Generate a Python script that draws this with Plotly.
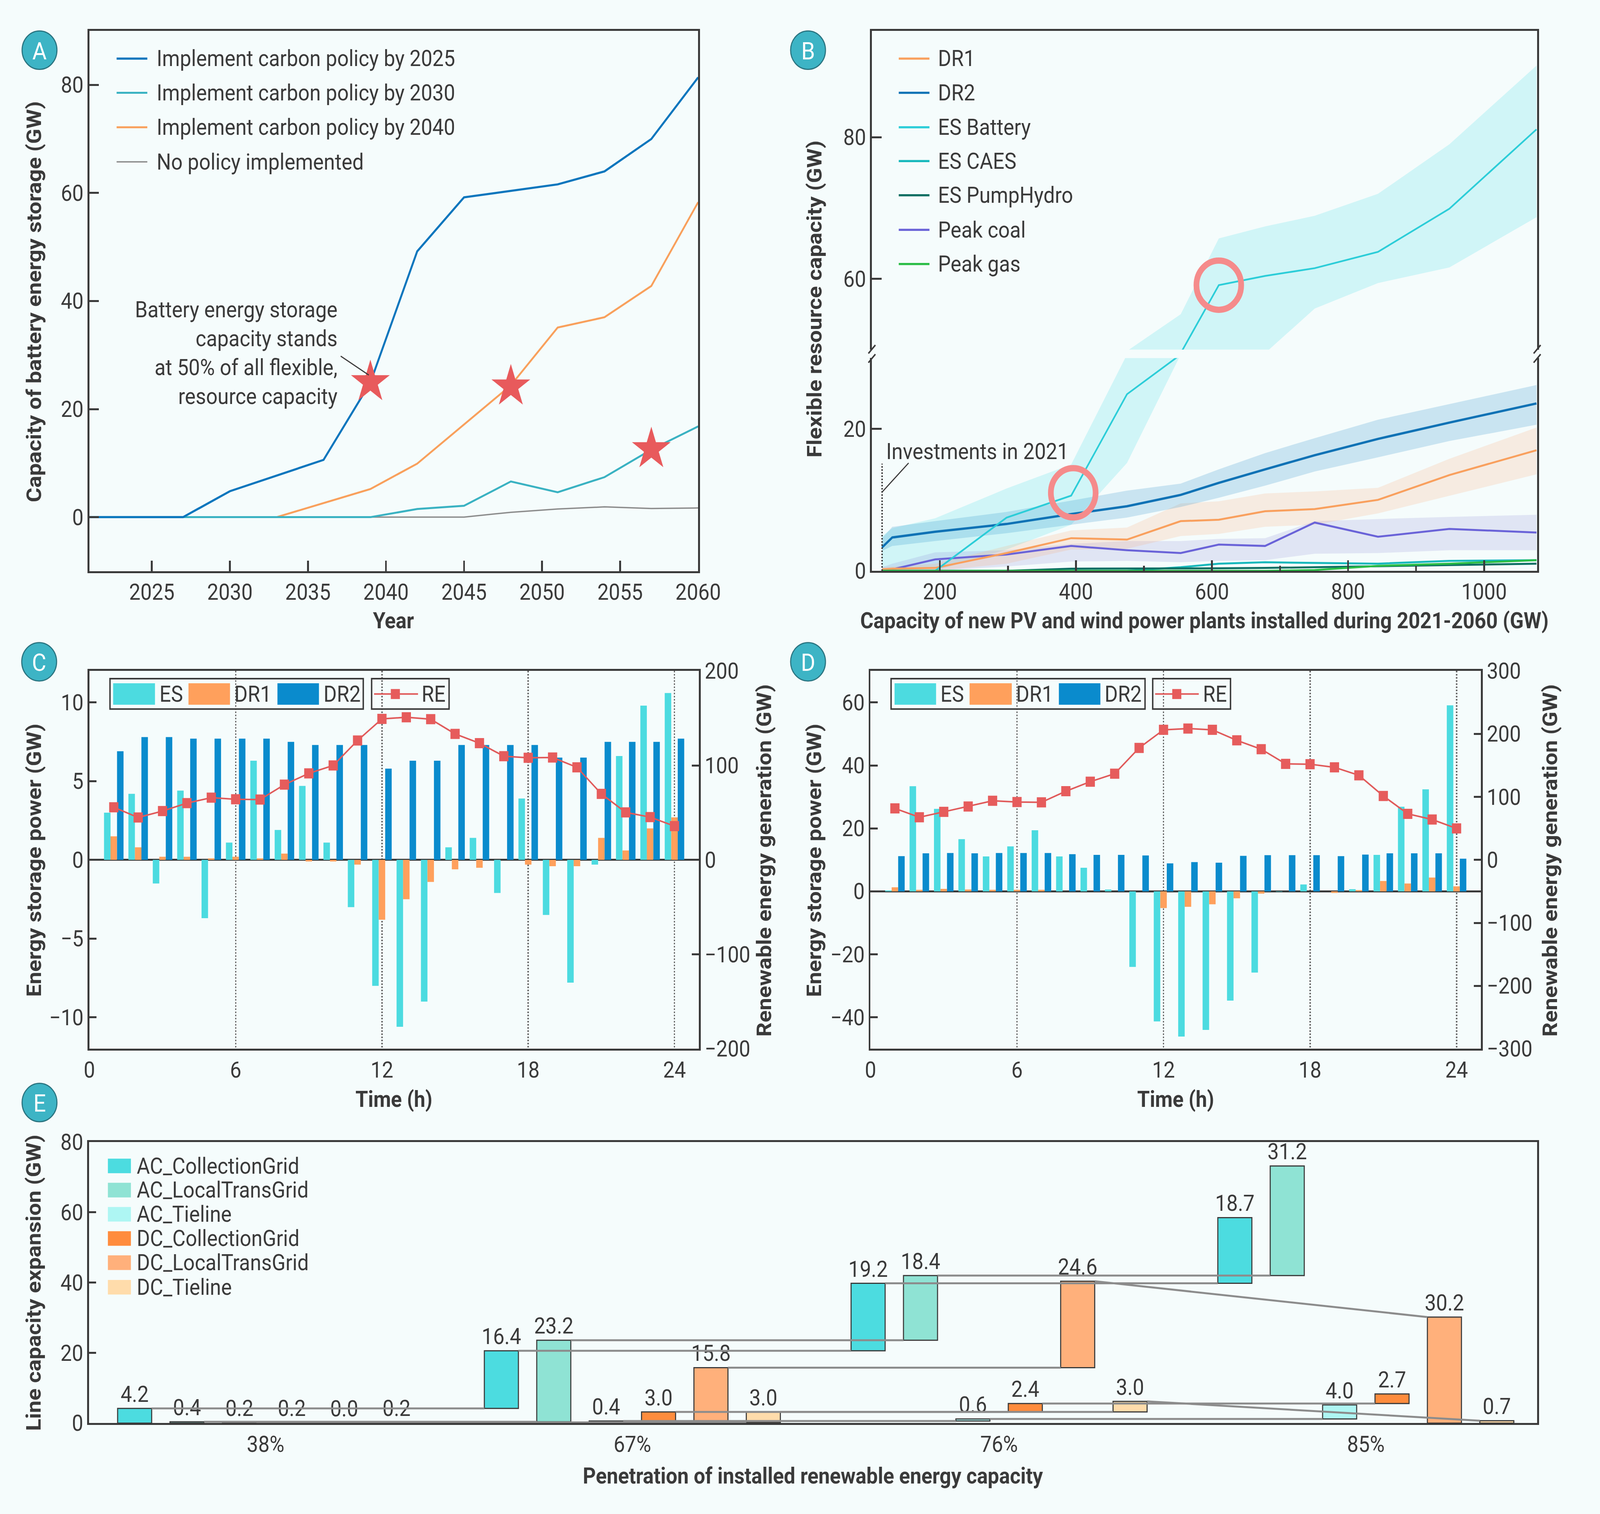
import plotly.graph_objects as go

W, H = 4505, 3875
BG = "#f5fcfc"
INK = "#3a3a3a"
FONT = "Roboto"
FS = 57

# ---------------- Panel A: battery storage capacity by policy year
years = [2021, 2024, 2027, 2030, 2033, 2036, 2039, 2042, 2045, 2048, 2051, 2054, 2057, 2060]
policy_2025 = [0, 0, 0, 4.8, 7.7, 10.6, 24.9, 49.2, 59.2, 60.4, 61.6, 64.0, 70.0, 81.4]
policy_2030 = [0, 0, 0, 0, 0, 0, 0, 1.5, 2.1, 6.6, 4.6, 7.4, 12.5, 16.8]
policy_2040 = [0, 0, 0, 0, 0, 2.6, 5.2, 9.9, 17.1, 24.4, 35.1, 37.0, 42.8, 58.3]
no_policy = [0, 0, 0, 0, 0, 0, 0, 0, 0, 0.9, 1.5, 1.9, 1.6, 1.7]
star_years = [2039, 2048, 2057]
star_values = [25.0, 24.2, 12.6]

# ---------------- Panel B: flexible resources vs new PV/wind capacity
pv_wind = [115, 130, 193, 298, 393, 475, 554, 610, 678, 751, 844, 949, 1077]
dr1 = [0.2, 0.3, 0.4, 2.5, 4.6, 4.4, 7.0, 7.2, 8.4, 8.7, 10.0, 13.5, 17.0]
dr1_hi = [0.5, 0.6, 1.0, 3.5, 5.7, 6.1, 9.5, 9.8, 10.9, 11.2, 11.7, 15.8, 20.2]
dr1_lo = [0, 0, 0, 1.0, 3.0, 3.1, 4.9, 5.2, 6.2, 6.5, 8.1, 10.6, 13.6]
dr2 = [3.3, 4.7, 5.5, 6.6, 8.0, 9.1, 10.7, 12.4, 14.3, 16.3, 18.6, 20.9, 23.6]
dr2_hi = [4.6, 6.2, 7.0, 8.3, 9.9, 11.3, 12.3, 14.3, 16.6, 18.7, 21.3, 23.5, 26.2]
dr2_lo = [2.8, 3.5, 4.2, 5.3, 6.5, 7.5, 9.0, 10.3, 12.0, 14.0, 16.0, 18.3, 20.6]
coal = [0, 0.2, 1.6, 2.3, 3.5, 2.9, 2.5, 3.7, 3.5, 6.8, 4.8, 5.9, 5.4]
coal_hi = [0.5, 1.0, 2.6, 2.9, 3.8, 4.2, 4.2, 4.5, 4.6, 7.0, 7.3, 7.6, 7.9]
coal_lo = [0, 0, 0, 0.6, 1.3, 1.4, 1.2, 1.4, 1.5, 2.4, 2.5, 2.9, 2.9]
caes = [0, 0, 0, 0, 0, 0, 0.5, 1.0, 1.2, 1.1, 1.0, 1.4, 1.5]
pumphydro = [0, 0, 0, 0, 0.3, 0.3, 0.3, 0.35, 0.4, 0.5, 0.6, 0.8, 1.0]
peak_gas = [0, 0, 0, 0, 0, 0, 0, 0, 0, 0.1, 0.7, 1.0, 1.5]
# battery jumps across the axis break, so it keeps its own point list
battery_x = [115, 130, 193, 298, 393, 475, 554, 554, 610, 678, 751, 844, 949, 1077]
battery_y = [0, 0, 0, 7.5, 10.6, 24.9, 30.5, 49.5, 59.1, 60.4, 61.5, 63.8, 69.9, 81.1]
battery_band_x = [115, 130, 193, 298, 393, 475, 475, 554, 610, 678, 751, 844, 949, 1077,
                  1077, 949, 844, 751, 678, 554, 475, 393, 298, 193, 130, 115]
battery_band_y = [4.9, 6.0, 7.4, 11.6, 15.0, 30.5, 49.8, 55.0, 65.7, 67.4, 68.9, 72.0, 79.0, 90.1,
                  68.7, 61.6, 59.4, 55.8, 49.5, 30.5, 15.2, 6.5, 3.0, 0, 0, 0]
ring_x = [396, 610]
ring_y = [11.0, 59.1]

# ---------------- Panels C and D: hourly dispatch
hours = list(range(1, 25))
c_es = [3.0, 4.2, -1.5, 4.4, -3.7, 1.1, 6.3, 1.9, 4.7, 1.1, -3.0, -8.0, -10.6, -9.0,
        0.8, 1.4, -2.1, 3.9, -3.5, -7.8, -0.3, 6.6, 9.8, 10.6]
c_dr1 = [1.5, 0.8, 0.2, 0.2, 0.1, 0.2, 0.1, 0.4, -0.1, -0.1, -0.3, -3.8, -2.5, -1.4,
         -0.6, -0.5, 0, -0.3, -0.4, -0.4, 1.4, 0.6, 2.0, 2.7]
c_dr2 = [6.9, 7.8, 7.8, 7.7, 7.7, 7.7, 7.7, 7.5, 7.3, 7.3, 7.3, 5.8, 6.3, 6.3,
         7.3, 7.3, 7.3, 7.3, 6.5, 6.5, 7.5, 7.5, 7.5, 7.7]
c_re = [55.7, 44.9, 51.7, 60.1, 65.9, 64.2, 63.9, 79.7, 91.6, 100.0, 126.4, 149.3, 151.0, 149.0,
        133.4, 123.6, 109.8, 108.1, 108.4, 98.0, 69.9, 50.3, 45.3, 35.8]
d_es = [0.3, 33.4, 26.2, 16.6, 11.1, 14.3, 19.4, 11.1, 7.5, 0.6, -24.0, -41.3, -46.1, -44.0,
        -34.7, -25.8, -0.1, 2.2, 0.0, 0.7, 11.6, 26.9, 32.4, 59.1]
d_dr1 = [1.3, 0.5, 0.8, 0.6, 0.5, 0.5, 0.5, 0, 0, 0, 0, -5.3, -4.9, -4.1,
         -2.2, -0.7, 0, 0, -0.5, 0.4, 3.3, 2.5, 4.4, 1.6]
d_dr2 = [11.2, 12.1, 12.2, 12.1, 12.2, 12.2, 12.2, 11.8, 11.6, 11.6, 11.4, 8.9, 9.3, 9.1,
         11.3, 11.5, 11.5, 11.5, 11.2, 11.7, 12.1, 12.1, 12.1, 10.4]
d_re = [81.8, 67.7, 76.3, 84.8, 93.9, 91.9, 91.4, 109.1, 124.2, 136.9, 177.8, 206.6, 208.6, 206.6,
        189.9, 175.8, 152.5, 152.0, 147.0, 134.3, 101.5, 73.2, 64.1, 50.0]

# ---------------- Panel E: line capacity expansion
penetration = ["38%", "67%", "76%", "85%"]
line_types = ["AC_CollectionGrid", "AC_LocalTransGrid", "AC_Tieline",
              "DC_CollectionGrid", "DC_LocalTransGrid", "DC_Tieline"]
line_added = [
    [4.2, 16.4, 19.2, 18.7],
    [0.4, 23.2, 18.4, 31.2],
    [0.2, 0.4, 0.6, 4.0],
    [0.2, 3.0, 2.4, 2.7],
    [0.0, 15.8, 24.6, 30.2],
    [0.2, 3.0, 3.0, 0.7],
]
line_base = [
    [0, 4.2, 20.6, 39.8],
    [0, 0.4, 23.6, 42.0],
    [0, 0.2, 0.6, 1.2],
    [0, 0.2, 3.2, 5.6],
    [0, 0.0, 15.8, 0],
    [0, 0.2, 3.2, 0],
]
line_colors = ["#4cdce0", "#8fe3d4", "#aef6f3", "#ff8c3d", "#ffb07b", "#ffdcab"]


def px(x):
    return x / W


def py(y):
    return 1 - y / H


fig = go.Figure()
shapes = []
annos = []


def text(x, y, s, size=FS, anchor="left", bold=False, angle=0, color=INK):
    annos.append(dict(xref="paper", yref="paper", x=px(x), y=py(y), text=s, showarrow=False,
                      xanchor=anchor, yanchor="middle", textangle=angle,
                      font=dict(family=FONT, size=size, color=color,
                                weight="bold" if bold else "normal")))


def seg(x0, y0, x1, y1, color=INK, width=4, dash="solid", xref="paper", yref="paper"):
    if xref == "paper":
        x0, x1, y0, y1 = px(x0), px(x1), py(y0), py(y1)
    shapes.append(dict(type="line", xref=xref, yref=yref, x0=x0, y0=y0, x1=x1, y1=y1,
                       line=dict(color=color, width=width, dash=dash)))


def rect(x0, y0, x1, y1, fill, line_color=None, width=0):
    shapes.append(dict(type="rect", xref="paper", yref="paper", x0=px(x0), x1=px(x1),
                       y0=py(y1), y1=py(y0), fillcolor=fill,
                       line=dict(color=line_color or fill, width=width)))


def add_line(x, y, color, width, xa, ya, **kw):
    fig.add_trace(go.Scatter(x=x, y=y, mode="lines", line=dict(color=color, width=width),
                             xaxis=xa, yaxis=ya, showlegend=False, hoverinfo="skip", **kw))


def add_band(x, hi, lo, color, xa, ya):
    fig.add_trace(go.Scatter(x=list(x) + list(x)[::-1], y=list(hi) + list(lo)[::-1],
                             mode="lines", fill="toself", fillcolor=color, line=dict(width=0),
                             xaxis=xa, yaxis=ya, showlegend=False, hoverinfo="skip"))


# ---------- A
a_series = [("Implement carbon policy by 2025", policy_2025, "#0b76bd", 5.5),
            ("Implement carbon policy by 2030", policy_2030, "#3ab2c2", 5),
            ("Implement carbon policy by 2040", policy_2040, "#f9a05c", 5),
            ("No policy implemented", no_policy, "#8c8c8c", 3.5)]
for name, vals, col, wd in a_series[::-1]:
    add_line(years, vals, col, wd, "x", "y")
fig.add_trace(go.Scatter(x=star_years, y=star_values, mode="markers", xaxis="x", yaxis="y",
                         marker=dict(symbol="star", size=82, color="#e85a5c"),
                         showlegend=False, hoverinfo="skip"))
for i, (name, vals, col, wd) in enumerate(a_series):
    yy = [119, 208, 298, 388][i]
    seg(318, yy, 406, yy, col, wd)
    text(431, yy, name)
text(953, 886, "Battery energy storage<br>capacity stands<br>at 50% of all flexible,<br>resource capacity",
     anchor="right")
annos[-1]["align"] = "right"
seg(2037.1, 29.8, 2038.9, 26.3, INK, 3, xref="x", yref="y")

# ---------- B (lower x2/y2 and upper x3/y3 share the same data)
for xa, ya in (("x2", "y2"), ("x3", "y3")):
    fig.add_trace(go.Scatter(x=battery_band_x, y=battery_band_y, mode="lines", fill="toself",
                             fillcolor="rgba(77,221,232,0.22)", line=dict(width=0),
                             xaxis=xa, yaxis=ya, showlegend=False, hoverinfo="skip"))
    add_band(pv_wind, coal_hi, coal_lo, "rgba(125,120,205,0.17)", xa, ya)
    add_band(pv_wind, dr1_hi, dr1_lo, "rgba(248,170,120,0.2)", xa, ya)
    add_band(pv_wind, dr2_hi, dr2_lo, "rgba(25,135,200,0.2)", xa, ya)
    add_line(pv_wind, coal, "#6a63d8", 5, xa, ya)
    add_line(pv_wind, dr1, "#f9a05e", 5, xa, ya)
    add_line(pv_wind, dr2, "#0f72b5", 6, xa, ya)
    add_line(battery_x, battery_y, "#2ccdd8", 4.5, xa, ya)
    add_line(pv_wind, caes, "#17b8bc", 5, xa, ya)
    add_line(pv_wind, pumphydro, "#0c6e62", 5, xa, ya)
    add_line(pv_wind, peak_gas, "#2bbd46", 5, xa, ya)
    fig.add_trace(go.Scatter(x=ring_x, y=ring_y, mode="markers", xaxis=xa, yaxis=ya,
                             marker=dict(symbol="circle-open", size=126, color="#f58b8b",
                                         line=dict(width=16)),
                             showlegend=False, hoverinfo="skip"))
b_legend = [("DR1", "#f9a05e"), ("DR2", "#0f72b5"), ("ES Battery", "#2ccdd8"),
            ("ES CAES", "#17b8bc"), ("ES PumpHydro", "#0c6e62"), ("Peak coal", "#6a63d8"),
            ("Peak gas", "#2bbd46")]
for i, (name, col) in enumerate(b_legend):
    yy = [119, 208, 298, 386, 475, 565, 654][i]
    seg(2560, yy, 2648, yy, col, 5.5)
    text(2670, yy, name)
seg(115, 0, 115, 15.1, INK, 4, "dot", "x2", "y2")
seg(115, 11.1, 154, 15.2, INK, 3, xref="x2", yref="y2")
text(2522, 1142, "Investments in 2021")
# break marks
for bx in (2483, 4390):
    seg(bx - 10, 887, bx + 10, 865, INK, 4)
    seg(bx - 10, 911, bx + 10, 889, INK, 4)


# ---------- C and D
def dispatch(es, d1, d2, re, xa, ya, ya2):
    for vals, col, off in ((es, "#4cdbe0", -0.4), (d1, "#ffa05c", -0.1333), (d2, "#0a8bcd", 0.1333)):
        fig.add_trace(go.Bar(x=hours, y=vals, width=0.2667, offset=off, marker_color=col,
                             marker_line_width=0, xaxis=xa, yaxis=ya, showlegend=False,
                             hoverinfo="skip"))
    fig.add_trace(go.Scatter(x=hours, y=re, mode="lines+markers", xaxis=xa, yaxis=ya2,
                             line=dict(color="#e05a5a", width=4),
                             marker=dict(symbol="square", size=26, color="#e65c5c"),
                             showlegend=False, hoverinfo="skip"))


dispatch(c_es, c_dr1, c_dr2, c_re, "x4", "y4", "y5")
dispatch(d_es, d_dr1, d_dr2, d_re, "x5", "y6", "y7")


def bar_legend(box1, sw, tx, box2, ln, mk, rt):
    y0, y1, yc = 1734, 1813, 1774
    rect(box1[0], y0, box1[1], y1, "rgba(0,0,0,0)", INK, 4)
    for (a, b), t, name, col in zip(sw, tx, ["ES", "DR1", "DR2"], ["#4cdbe0", "#ffa05c", "#0a8bcd"]):
        rect(a, 1746, b, 1802, col)
        text(t, yc, name)
    rect(box2[0], y0, box2[1], y1, "rgba(0,0,0,0)", INK, 4)
    seg(ln[0], yc, ln[1], yc, "#e05a5a", 4)
    rect(mk - 13, yc - 13, mk + 13, yc + 13, "#e65c5c")
    text(rt, yc, "RE")


bar_legend((299, 1025), [(308, 428), (524, 643), (779, 898)], [439, 654, 909],
           (1049, 1271), (1056, 1182), 1117, 1190)
bar_legend((2538, 3266), [(2548, 2667), (2763, 2884), (3019, 3138)], [2678, 2894, 3148],
           (3288, 3511), (3295, 3420), 3357, 3430)

# ---------- E
bar_w = 0.65
conn_x, conn_y = [], []
for k in range(6):
    pos = [7 * g + k for g in range(4)]
    tops = [b + v for b, v in zip(line_base[k], line_added[k])]
    for g in range(3):
        nxt = line_base[k][g + 1]
        end = nxt if abs(nxt - tops[g]) < 1e-9 else tops[g + 1]
        conn_x += [pos[g] + bar_w / 2, pos[g + 1] - bar_w / 2, None]
        conn_y += [tops[g], end, None]
fig.add_trace(go.Scatter(x=conn_x, y=conn_y, mode="lines", line=dict(color="#8c8c8c", width=5),
                         xaxis="x6", yaxis="y8", showlegend=False, hoverinfo="skip"))
for k in range(6):
    pos = [7 * g + k for g in range(4)]
    fig.add_trace(go.Bar(x=pos, y=line_added[k], base=line_base[k], width=bar_w, offset=-bar_w / 2,
                         marker=dict(color=line_colors[k], line=dict(color=INK, width=3)),
                         text=[f"{v:.1f}" for v in line_added[k]], textposition="outside",
                         constraintext="none", cliponaxis=False,
                         textfont=dict(family=FONT, size=FS, color=INK),
                         xaxis="x6", yaxis="y8", showlegend=False, hoverinfo="skip"))
for k, name in enumerate(line_types):
    yy = [3003, 3066, 3129, 3192, 3255, 3319][k]
    rect(293, yy - 19, 359, yy + 19, line_colors[k])
    text(374, yy, name)

# ---------- panel badges and axis titles
for lab, cx, cy in (("A", 97, 97), ("B", 2300, 97), ("C", 96, 1690), ("D", 2300, 1690), ("E", 97, 2838)):
    shapes.append(dict(type="circle", xref="paper", yref="paper", x0=px(cx - 50), x1=px(cx + 50),
                       y0=py(cy + 50), y1=py(cy - 50), fillcolor="#3db4c5",
                       line=dict(color="#2a7480", width=3)))
    text(cx, cy + 2, lab, size=62, anchor="center", color="white")

text(82, 752, "Capacity of battery energy storage (GW)", bold=True, angle=-90, anchor="center")
text(1112, 1583, "Year", bold=True, anchor="center")
text(2318, 745, "Flexible resource capacity (GW)", bold=True, angle=-90, anchor="center")
text(3436, 1583, "Capacity of new PV and wind power plants installed during 2021-2060 (GW)",
     bold=True, anchor="center")
text(82, 2207, "Energy storage power (GW)", bold=True, angle=-90, anchor="center")
text(2175, 2207, "Renewable energy generation (GW)", bold=True, angle=-90, anchor="center")
text(1113, 2829, "Time (h)", bold=True, anchor="center")
text(2318, 2207, "Energy storage power (GW)", bold=True, angle=-90, anchor="center")
text(4427, 2207, "Renewable energy generation (GW)", bold=True, angle=-90, anchor="center")
text(3354, 2829, "Time (h)", bold=True, anchor="center")
text(81, 3307, "Line capacity expansion (GW)", bold=True, angle=-90, anchor="center")
text(2314, 3810, "Penetration of installed renewable energy capacity", bold=True, anchor="center")

# ---------- axes
base_ax = dict(showline=True, linecolor=INK, linewidth=5, ticks="inside", tickcolor=INK,
               tickwidth=5, ticklen=27, showgrid=False, zeroline=False,
               tickfont=dict(family=FONT, size=FS, color=INK))


def ax(**kw):
    d = dict(base_ax)
    d.update(kw)
    return d


hx = lambda a, b: [px(a), px(b)]
vy = lambda top, bot: [py(bot), py(top)]

fig.update_layout(
    width=W, height=H, margin=dict(l=0, r=0, t=0, b=0),
    paper_bgcolor=BG, plot_bgcolor=BG, showlegend=False, barmode="overlay",
    font=dict(family=FONT, size=FS, color=INK),
    shapes=shapes, annotations=annos,
    # A
    xaxis=ax(domain=hx(240, 1985), range=[2021, 2060], tick0=2025, dtick=5, mirror=True, anchor="y"),
    yaxis=ax(domain=vy(47, 1454), range=[-10, 90], tick0=0, dtick=20, mirror=True, anchor="x",
             tickvals=[0, 20, 40, 60, 80]),
    # B lower / upper
    xaxis2=ax(domain=hx(2483, 4390), range=[100, 1078], tick0=200, dtick=200, anchor="y2",
              minor=dict(dtick=100, ticks="inside", ticklen=13, tickwidth=5, tickcolor=INK)),
    yaxis2=ax(domain=vy(899, 1453), range=[0, 30], tickvals=[0, 20], mirror=True, anchor="x2"),
    xaxis3=ax(domain=hx(2483, 4390), range=[100, 1078], anchor="y3", side="top", ticks="",
              showticklabels=False),
    yaxis3=ax(domain=vy(47, 877), range=[50, 95], tickvals=[60, 80], mirror=True, anchor="x3"),
    # C
    xaxis4=ax(domain=hx(240, 1987), range=[0, 25], tick0=0, dtick=6, ticks="", mirror=True,
              anchor="y4", showgrid=True, griddash="dot", gridcolor="#6a6a6a", gridwidth=4),
    yaxis4=ax(domain=vy(1714, 2698), range=[-12, 12], tickvals=[-10, -5, 0, 5, 10], anchor="x4",
              zeroline=True, zerolinecolor=INK, zerolinewidth=5, ticklen=20),
    yaxis5=ax(domain=vy(1714, 2698), range=[-200, 200], dtick=100, tick0=0, anchor="x4",
              overlaying="y4", side="right", ticklen=20),
    # D
    xaxis5=ax(domain=hx(2479, 4229), range=[0, 25], tick0=0, dtick=6, ticks="", mirror=True,
              anchor="y6", showgrid=True, griddash="dot", gridcolor="#6a6a6a", gridwidth=4),
    yaxis6=ax(domain=vy(1714, 2698), range=[-50, 70], tickvals=[-40, -20, 0, 20, 40, 60], anchor="x5",
              zeroline=True, zerolinecolor=INK, zerolinewidth=5, ticklen=20),
    yaxis7=ax(domain=vy(1714, 2698), range=[-300, 300], dtick=100, tick0=0, anchor="x5",
              overlaying="y6", side="right", ticklen=20),
    # E
    xaxis6=ax(domain=hx(239, 4390), range=[-0.87, 26.77], tickvals=[2.5, 9.5, 16.5, 23.5],
              ticktext=penetration, ticks="", mirror=True, anchor="y8"),
    yaxis8=ax(domain=vy(2941, 3673), range=[0, 80], dtick=20, tick0=0, mirror=True, anchor="x6",
              ticklen=20),
)

# stretch the fixed-size figure over the whole viewport, whatever its real size is
fit_js = """
var gd = document.getElementById('{plot_id}');
var vw = window.innerWidth, vh = window.innerHeight;
document.documentElement.style.margin = '0';
document.documentElement.style.overflow = 'hidden';
document.body.style.margin = '0';
document.body.style.overflow = 'hidden';
var box = gd.parentElement;
box.style.width = vw + 'px';
box.style.height = vh + 'px';
box.style.overflow = 'hidden';
box.style.background = '%s';
gd.style.transformOrigin = '0 0';
gd.style.transform = 'scale(' + (vw / %d) + ',' + (vh / %d) + ')';
""" % (BG, W, H)

fig.write_html("out.html", post_script=fit_js, config={"displayModeBar": False})
